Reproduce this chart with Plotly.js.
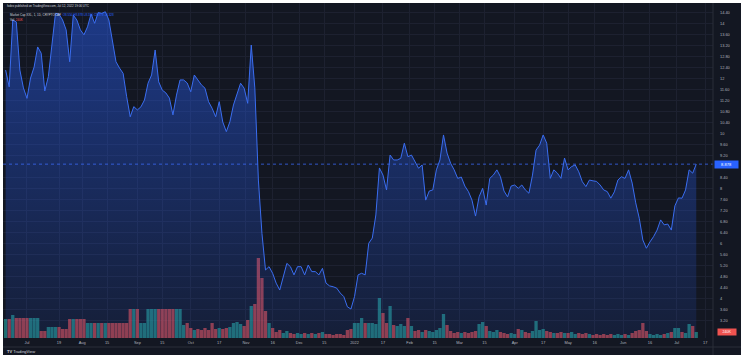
<!DOCTYPE html>
<html><head><meta charset="utf-8">
<script src="https://cdn.plot.ly/plotly-3.0.1.min.js"></script>
<style>
html,body{margin:0;padding:0;background:#ffffff;width:746px;height:362px;overflow:hidden}
#chart{position:absolute;left:3px;top:3px;width:738px;height:352px}
</style>
</head><body><div id="chart"></div>
<script>
// ---- data (daily chart sampled every 2 days, starting 2021-06-19) ----
const startDate = [2021, 5, 19];
const stepDays = 2;
const price = [
12.30,11.69,14.12,14.05,12.30,11.65,11.27,12.01,12.41,13.14,
12.91,11.54,12.06,13.15,14.36,14.34,14.12,13.76,12.60,14.30,
14.12,13.76,13.58,13.87,14.34,14.00,14.39,14.36,14.42,14.12,
13.28,12.60,12.37,12.18,11.33,10.60,10.97,10.85,10.96,11.21,
11.82,12.12,13.03,11.87,11.57,11.47,11.28,10.67,11.39,11.94,
11.94,11.83,11.51,12.12,11.94,11.76,11.64,11.15,10.91,10.60,
11.15,10.41,10.06,10.42,11.03,11.39,11.82,11.64,11.09,13.21,
11.65,8.30,6.36,5.03,5.15,4.91,4.55,4.30,4.79,5.27,
5.15,4.85,5.15,5.15,4.85,5.21,4.97,4.97,4.85,5.09,
4.55,4.45,4.42,4.37,4.19,4.06,3.69,3.61,4.06,4.85,
4.91,4.85,6.00,6.19,7.03,8.74,8.48,7.94,9.21,9.03,
9.03,9.09,9.64,9.15,9.21,8.97,8.73,8.85,7.57,7.90,
7.94,8.67,9.03,9.94,9.28,8.91,8.67,8.36,8.41,8.08,
7.88,7.57,6.99,7.69,8.00,7.39,8.36,8.48,8.67,8.42,
7.90,7.69,8.08,8.12,8.00,8.12,7.94,7.82,8.48,9.39,
9.57,9.94,9.64,8.36,8.67,8.55,8.36,9.10,8.67,8.79,
8.85,8.60,8.24,8.06,8.30,8.27,8.25,8.12,7.94,7.88,
7.64,7.87,8.30,8.42,8.36,8.67,8.19,7.47,6.91,6.12,
5.82,6.05,6.24,6.48,6.85,6.67,6.70,6.48,7.36,7.65,
7.64,7.94,8.67,8.55,8.878
];
const volume = [ // thousands
760,760,920,800,800,800,800,800,800,800,
280,280,440,440,440,440,360,360,760,760,
760,760,760,600,600,600,600,600,600,600,
600,600,600,600,600,1160,1160,1160,600,600,
1160,1160,1160,1160,1160,1160,1160,1160,1160,1160,
520,600,400,320,360,320,400,320,600,360,
400,360,400,440,600,640,560,480,720,1280,
1360,3200,2400,1080,600,400,240,320,200,280,
200,160,200,160,200,160,200,160,200,240,
160,160,120,160,160,120,320,360,600,600,
800,600,600,600,560,1600,1000,600,1280,520,
480,560,480,800,480,280,320,240,320,280,
240,320,400,960,520,280,200,240,200,240,
200,240,280,560,640,480,280,240,320,240,
200,160,200,160,360,320,240,200,280,680,
320,360,280,240,200,200,240,200,200,240,
160,200,160,200,160,120,160,120,160,120,
160,120,160,120,160,120,200,280,320,600,
280,160,120,160,120,160,200,240,400,400,
240,200,560,480,240
];
const xTickDates = ['2021-07-01','2021-07-19','2021-08-01','2021-08-15','2021-09-01','2021-09-15',
  '2021-10-01','2021-10-17','2021-11-01','2021-11-16','2021-12-01','2021-12-15',
  '2022-01-01','2022-01-17','2022-02-01','2022-02-15','2022-03-01','2022-03-15',
  '2022-04-01','2022-04-17','2022-05-01','2022-05-16','2022-06-01','2022-06-16',
  '2022-07-01','2022-07-17'];
const xTickLabels = ['Jul','19','Aug','15','Sep','15','Oct','17','Nov','16','Dec','15',
  '2022','17','Feb','15','Mar','15','Apr','17','May','16','Jun','16','Jul','17'];
const publishLine = 'fxdex published on TradingView.com, Jul 12, 2022 19:06 UTC';
const symbolLine = 'Market Cap XXL, 1, 1D, CRYPTOCAP';

// ---- build ----
function dateStr(k){
  const d = new Date(Date.UTC(startDate[0], startDate[1], startDate[2] + k*stepDays));
  return d.toISOString().slice(0,10);
}
const dates = price.map((_, k) => dateStr(k));
const upCol = 'rgba(38,166,154,0.62)', dnCol = 'rgba(239,83,80,0.62)';
const volColors = price.map((p, k) => (k === 0 || p >= price[k-1]) ? upCol : dnCol);
const last = price[price.length-1];
const prev = price[price.length-2];
const lastVol = volume[volume.length-1];
const volTxt = lastVol + 'K';

// price-scale ticks every 0.40; the one hidden under the last-price label is left out
const yTicks = [], yText = [];
for (let i = 0; i <= 28; i++) {
  const v = Math.round((3.2 + 0.4*i)*100)/100;
  if (Math.abs(v - last) < 0.2) continue;
  yTicks.push(v);
  yText.push(Number.isInteger(v) ? String(v) : v.toFixed(2));
}

const volTrace = {
  type: 'bar', x: dates, y: volume, yaxis: 'y', xaxis: 'x',
  marker: {color: volColors, line: {width: 0}}, hoverinfo: 'skip'
};
const priceTrace = {
  type: 'scatter', mode: 'lines', x: dates, y: price, yaxis: 'y2', xaxis: 'x',
  line: {color: '#3a6df0', width: 1},
  fill: 'tozeroy',
  fillgradient: {type: 'vertical', start: 2.6, stop: 14.6,
    colorscale: [[0, 'rgba(41,98,255,0.10)'], [1, 'rgba(41,98,255,0.46)']]},
  hoverinfo: 'skip'
};

const gridCol = '#1d2130';
const tickFont = {family: 'Liberation Sans, Arial, sans-serif', size: 3.9, color: '#b2b5be'};
const plotTopPx = 3, plotBotPx = 338, plotH = plotBotPx - plotTopPx;
const py = px => (plotBotPx - px) / plotH;   // page pixel -> paper y
const pxX = px => (px - 3) / 710;            // page pixel -> paper x

const layout = {
  width: 738, height: 352,
  margin: {l: 0, r: 28, t: 0, b: 17, pad: 0},
  paper_bgcolor: '#131722', plot_bgcolor: '#131722',
  showlegend: false, bargap: 0.08,
  font: {family: 'Liberation Sans, Arial, sans-serif', color: '#b2b5be'},
  xaxis: {
    type: 'date', range: ['2021-06-17 12:30', '2022-07-21 10:00'],
    tickmode: 'array', tickvals: xTickDates, ticktext: xTickLabels,
    showgrid: true, gridcolor: gridCol, gridwidth: 1, zeroline: false, showline: false,
    ticks: '', tickfont: tickFont, ticklabelstandoff: 1
  },
  yaxis: {range: [0, 13400], visible: false, showgrid: false, zeroline: false, fixedrange: true},
  yaxis2: {
    overlaying: 'y', side: 'right', range: [2.556, 14.738],
    tickmode: 'array', tickvals: yTicks, ticktext: yText,
    showgrid: true, gridcolor: gridCol, gridwidth: 1, zeroline: false, showline: false,
    ticks: '', tickfont: tickFont, ticklabelstandoff: 6
  },
  shapes: [
    {type: 'line', xref: 'paper', yref: 'y2', x0: 0, x1: 1, y0: last, y1: last,
     line: {color: 'rgba(60,110,255,0.75)', width: 1, dash: 'dot'}},
    {type: 'line', xref: 'paper', yref: 'paper', x0: 1, x1: 1, y0: py(355), y1: 1,
     line: {color: '#2a2e39', width: 1}},
    {type: 'line', xref: 'paper', yref: 'paper', x0: pxX(3), x1: pxX(741), y0: py(347), y1: py(347),
     line: {color: '#2a2e39', width: 1}}
  ],
  annotations: [
    {xref: 'paper', yref: 'paper', x: pxX(5), y: py(5.8), xanchor: 'left', yanchor: 'middle',
     text: publishLine, showarrow: false, font: {size: 3.0, color: '#d1d4dc'}},
    {xref: 'paper', yref: 'paper', x: pxX(8), y: py(15), xanchor: 'left', yanchor: 'middle',
     text: symbolLine + '  <span style="color:#2962ff">O' + prev.toFixed(3) + ' H' + Math.max(prev,last).toFixed(3) +
           ' L' + Math.min(prev,last).toFixed(3) + ' C' + last.toFixed(3) + ' +' + (last-prev).toFixed(3) + '</span>',
     showarrow: false, font: {size: 3.0, color: '#d1d4dc'}},
    {xref: 'paper', yref: 'paper', x: pxX(8), y: py(19.8), xanchor: 'left', yanchor: 'middle',
     text: 'Vol  <span style="color:#ef5350">' + volTxt + '</span>',
     showarrow: false, font: {size: 3.0, color: '#d1d4dc'}},
    {xref: 'paper', yref: 'y2', x: 1, y: last, xanchor: 'left', yanchor: 'middle', xshift: 1,
     text: last.toFixed(3), showarrow: false, bgcolor: '#2962ff', width: 23, height: 7,
     borderpad: 0, font: {size: 4, color: '#ffffff'}},
    {xref: 'paper', yref: 'y', x: 1, y: lastVol, xanchor: 'left', yanchor: 'middle', xshift: 4,
     text: volTxt, showarrow: false, bgcolor: '#ef5350', width: 18, height: 6,
     borderpad: 0, font: {size: 3.6, color: '#ffffff'}},
    {xref: 'paper', yref: 'paper', x: pxX(5), y: py(351), xanchor: 'left', yanchor: 'middle',
     text: '<b>TV</b> TradingView', showarrow: false, font: {size: 4, color: '#d1d4dc'}}
  ]
};

Plotly.newPlot('chart', [volTrace, priceTrace], layout, {staticPlot: true, displayModeBar: false});
</script>
</body></html>
